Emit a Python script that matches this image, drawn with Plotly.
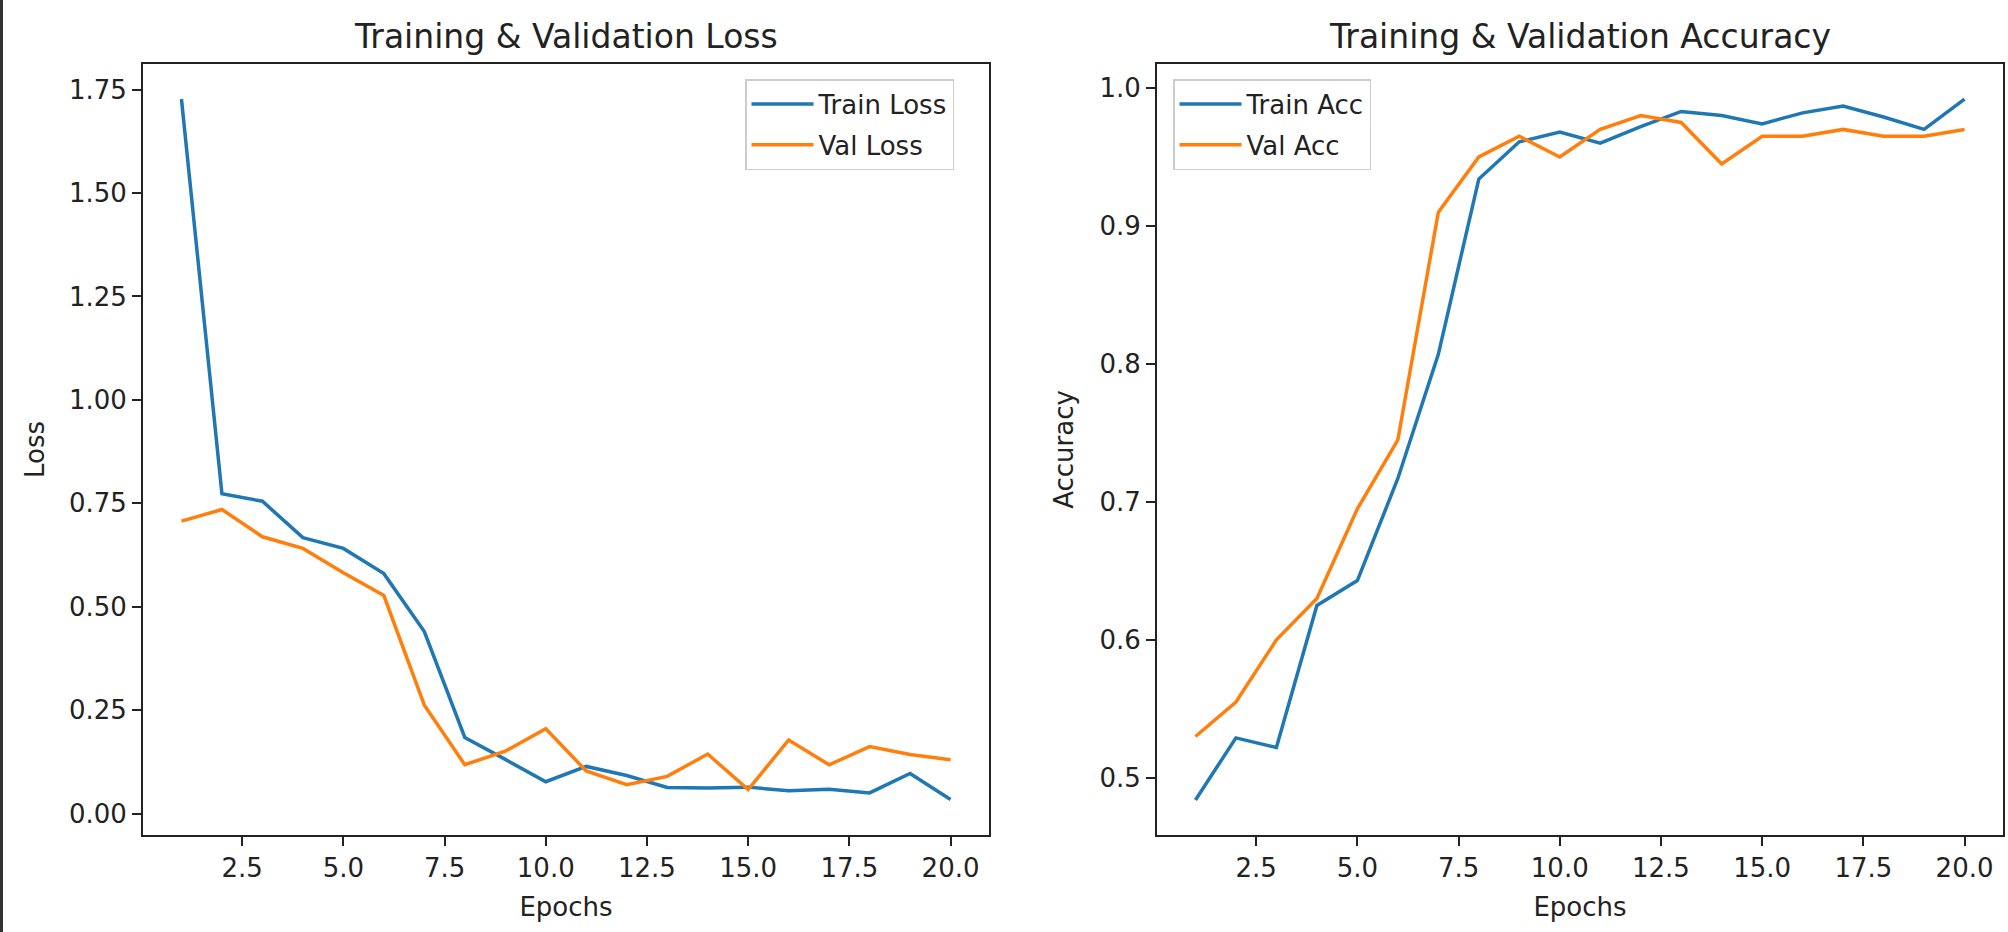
import plotly.graph_objects as go

epochs = list(range(1, 21))
train_loss = [1.727, 0.773, 0.755, 0.667, 0.641, 0.580, 0.440, 0.184, 0.131, 0.077,
              0.114, 0.092, 0.063, 0.062, 0.064, 0.055, 0.059, 0.050, 0.097, 0.034]
val_loss = [0.707, 0.735, 0.669, 0.641, 0.582, 0.527, 0.262, 0.118, 0.151, 0.205,
            0.103, 0.070, 0.090, 0.144, 0.058, 0.178, 0.118, 0.162, 0.143, 0.130]
train_acc = [0.484, 0.529, 0.522, 0.625, 0.643, 0.717, 0.807, 0.934, 0.961, 0.968,
             0.960, 0.972, 0.983, 0.980, 0.974, 0.982, 0.987, 0.979, 0.970, 0.992]
val_acc = [0.530, 0.555, 0.600, 0.630, 0.695, 0.745, 0.910, 0.950, 0.965, 0.950,
           0.970, 0.980, 0.975, 0.945, 0.965, 0.965, 0.970, 0.965, 0.965, 0.970]

BLUE = "#1f77b4"
ORANGE = "#ff7f0e"
W, H = 2008, 932
FONT = "DejaVu Sans"
TXT = "#222"

def px_x(p):
    return p / W

def px_y(p):
    return 1 - p / H

fig = go.Figure()
fig.add_trace(go.Scatter(x=epochs, y=train_loss, mode="lines", name="Train Loss", legendgroup="a",
                         line=dict(color=BLUE, width=3.5), xaxis="x", yaxis="y", legend="legend"))
fig.add_trace(go.Scatter(x=epochs, y=val_loss, mode="lines", name="Val Loss", legendgroup="b",
                         line=dict(color=ORANGE, width=3.5), xaxis="x", yaxis="y", legend="legend"))
fig.add_trace(go.Scatter(x=epochs, y=train_acc, mode="lines", name="Train Acc", legendgroup="c",
                         line=dict(color=BLUE, width=3.5), xaxis="x2", yaxis="y2", legend="legend2"))
fig.add_trace(go.Scatter(x=epochs, y=val_acc, mode="lines", name="Val Acc", legendgroup="d",
                         line=dict(color=ORANGE, width=3.5), xaxis="x2", yaxis="y2", legend="legend2"))

axis_common = dict(showline=True, mirror=True, linecolor=TXT, linewidth=2,
                   ticks="outside", ticklen=9, tickwidth=2, tickcolor=TXT,
                   showgrid=False, zeroline=False,
                   tickfont=dict(family=FONT, size=26, color=TXT),
                   ticklabelstandoff=0)

xdom1 = [px_x(143), px_x(989)]
xdom2 = [px_x(1157), px_x(2003)]
ydom = [px_y(835), px_y(64)]
title_font = dict(family=FONT, size=26, color=TXT)
legend_common = dict(yanchor="top", bgcolor="rgba(255,255,255,0.8)", bordercolor="#cccccc",
                     borderwidth=1.5, font=dict(family=FONT, size=26, color=TXT),
                     tracegroupgap=4, itemwidth=62)

fig.update_layout(
    width=W, height=H,
    margin=dict(l=0, r=0, t=0, b=0),
    paper_bgcolor="white", plot_bgcolor="white",
    font=dict(family=FONT, color=TXT),
    xaxis=dict(domain=xdom1, anchor="y", range=[0.05, 20.95], tick0=0, dtick=2.5,
               tickformat=".1f", title=dict(text="Epochs", font=title_font, standoff=16),
               **axis_common),
    yaxis=dict(domain=ydom, anchor="x", range=[-0.0517, 1.8117], tick0=0, dtick=0.25,
               tickformat=".2f", title=dict(text="Loss", font=title_font, standoff=17),
               **axis_common),
    xaxis2=dict(domain=xdom2, anchor="y2", range=[0.05, 20.95], tick0=0, dtick=2.5,
                tickformat=".1f", title=dict(text="Epochs", font=title_font, standoff=16),
                **axis_common),
    yaxis2=dict(domain=ydom, anchor="x2", range=[0.4586, 1.0174], tick0=0, dtick=0.1,
                tickformat=".1f", title=dict(text="Accuracy", font=title_font, standoff=18),
                **axis_common),
    legend=dict(x=px_x(954), y=px_y(79), xanchor="right", **legend_common),
    legend2=dict(x=px_x(1173), y=px_y(79), xanchor="left", **legend_common),
    showlegend=True,
    annotations=[
        dict(text="Training & Validation Loss", xref="paper", yref="paper",
             x=(xdom1[0] + xdom1[1]) / 2, y=px_y(37), xanchor="center", yanchor="middle",
             showarrow=False, font=dict(family=FONT, size=33, color=TXT)),
        dict(text="Training & Validation Accuracy", xref="paper", yref="paper",
             x=(xdom2[0] + xdom2[1]) / 2, y=px_y(37), xanchor="center", yanchor="middle",
             showarrow=False, font=dict(family=FONT, size=33, color=TXT)),
    ],
    shapes=[dict(type="rect", xref="paper", yref="paper", x0=0, x1=px_x(3), y0=0, y1=1,
                 fillcolor="#333", line=dict(width=0), layer="above")],
)

fig.write_html("out.html", config={"displayModeBar": False},
               post_script="document.body.style.margin='0';")
